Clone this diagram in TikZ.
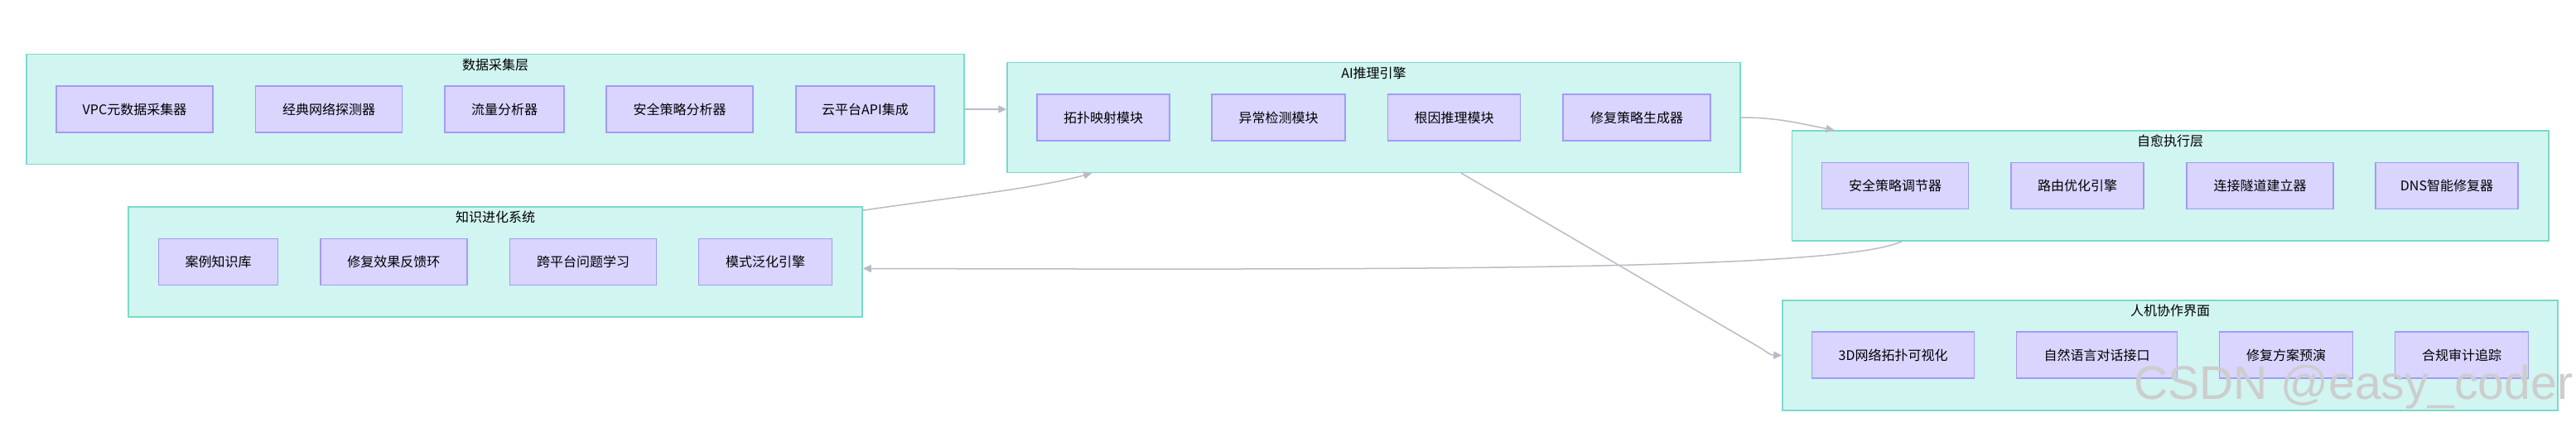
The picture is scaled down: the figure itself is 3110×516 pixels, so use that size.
\documentclass[tikz,border=0pt]{standalone}
\usepackage{fontspec}
\newfontfamily\cjk{Noto Sans CJK SC}
\newfontfamily\wmfont{Liberation Sans}
\usetikzlibrary{arrows.meta,calc}
\definecolor{clfill}{HTML}{D1F5F0}
\definecolor{cldraw}{HTML}{7ADACB}
\definecolor{ndfill}{HTML}{D9D5FF}
\definecolor{nddraw}{HTML}{A29BF7}
\definecolor{edgec}{HTML}{BBBAC8}
\definecolor{wmgray}{HTML}{CDCDCD}
\tikzset{
  cluster/.style={draw=cldraw, fill=clfill, line width=1.5pt, inner sep=0pt, minimum height=133pt},
  inbox/.style={draw=nddraw, fill=ndfill, line width=1.5pt, inner sep=0pt, minimum height=56pt, font=\cjk\fontsize{16}{19}\selectfont, text=black},
  ctitle/.style={font=\cjk\fontsize{16}{19}\selectfont, inner sep=0pt, text=black},
  conn/.style={draw=edgec, line width=1.5pt, -{Triangle[length=10pt,width=9pt]}},
}
\begin{document}
\begin{tikzpicture}[x=1pt,y=-1pt]
\useasboundingbox (0,0) rectangle (3110,516);
\fill[white] (0,0) rectangle (3110,516);

% cluster 1
\node[cluster, minimum width=1132pt] (c1) at (598,132) {};
\node[ctitle] (t1) at ($(c1.north)+(0,13.5)$) {数据采集层};
\node[inbox, minimum width=189pt] (n11) at (162.5,132) {VPC元数据采集器};
\node[inbox, minimum width=177pt] (n12) at (397,132) {经典网络探测器};
\node[inbox, minimum width=144pt] (n13) at (609,132) {流量分析器};
\node[inbox, minimum width=177pt] (n14) at (820.5,132) {安全策略分析器};
\node[inbox, minimum width=167pt] (n15) at (1044.5,132) {云平台API集成};

% cluster 2
\node[cluster, minimum width=885pt] (c2) at (1658.5,142) {};
\node[ctitle] (t2) at ($(c2.north)+(0,13.5)$) {AI推理引擎};
\node[inbox, minimum width=160pt] (n21) at (1332,142) {拓扑映射模块};
\node[inbox, minimum width=161pt] (n22) at (1543.5,142) {异常检测模块};
\node[inbox, minimum width=160pt] (n23) at (1755.6,142) {根因推理模块};
\node[inbox, minimum width=178pt] (n24) at (1976,142) {修复策略生成器};

% cluster 3
\node[cluster, minimum width=913.5pt] (c3) at (2620,224.5) {};
\node[ctitle] (t3) at ($(c3.north)+(0,13.5)$) {自愈执行层};
\node[inbox, minimum width=177pt] (n31) at (2288,224.5) {安全策略调节器};
\node[inbox, minimum width=160pt] (n32) at (2508,224.5) {路由优化引擎};
\node[inbox, minimum width=177pt] (n33) at (2728.5,224.5) {连接隧道建立器};
\node[inbox, minimum width=172pt] (n34) at (2954,224.5) {DNS智能修复器};

% cluster 4
\node[cluster, minimum width=886pt] (c4) at (598,316.5) {};
\node[ctitle] (t4) at ($(c4.north)+(0,13.5)$) {知识进化系统};
\node[inbox, minimum width=144pt] (n41) at (263.5,316.5) {案例知识库};
\node[inbox, minimum width=177pt] (n42) at (475.3,316.5) {修复效果反馈环};
\node[inbox, minimum width=177pt] (n43) at (704,316.5) {跨平台问题学习};
\node[inbox, minimum width=161pt] (n44) at (924,316.5) {模式泛化引擎};

% cluster 5
\node[cluster, minimum width=936pt] (c5) at (2620,429.5) {};
\node[ctitle] (t5) at ($(c5.north)+(0,13)$) {人机协作界面};
\node[inbox, minimum width=196pt] (n51) at (2285.6,429) {3D网络拓扑可视化};
\node[inbox, minimum width=194pt] (n52) at (2531.6,429) {自然语言对话接口};
\node[inbox, minimum width=161pt] (n53) at (2760,429) {修复方案预演};
\node[inbox, minimum width=161pt] (n54) at (2972,429) {合规审计追踪};

% connectors
\draw[conn] (c1.east) -- (c1.east -| c2.west);
\draw[conn] (c2.east) .. controls ($(c2.east)+(45,0)$) and ($(c3.north west)+(10,-8)$) .. ($(c3.north west)+(52,0)$);
\coordinate (e3s) at ($(c3.south west)+(133.5,0)$);
\draw[conn] (e3s) .. controls (2220,327) and (1700,326) .. ($(c4.east)+(0,8)$);
\draw[conn] ($(c4.north east)+(0,5)$) .. controls (1130,241) and (1250,228) .. ($(c2.south west)+(103,0)$);
\coordinate (e5b) at (2128,422);
\draw[conn] ($(c2.south west)+(549,0)$) -- (e5b) .. controls (2138,429) .. (c5.west);

% watermark
\node[anchor=base west, inner sep=0pt, font=\wmfont\fontsize{57}{60}\selectfont, text=wmgray] (wm) at (2576,482) {CSDN @easy\_coder};
\end{tikzpicture}
\end{document}
